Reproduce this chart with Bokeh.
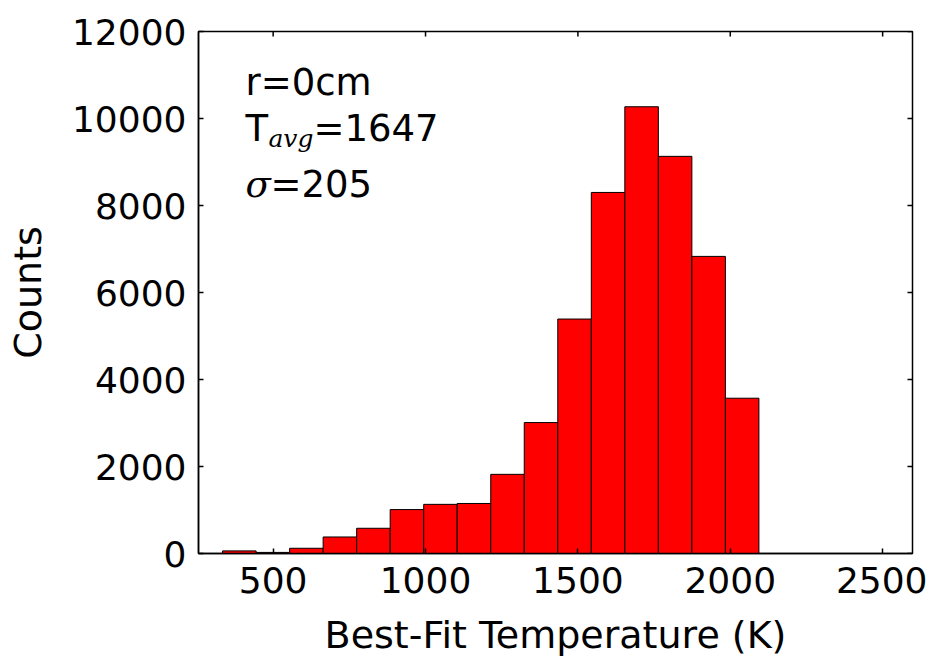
import math
from bokeh.plotting import figure
from bokeh.models import Range1d, FixedTicker, Label, ColumnDataSource
from bokeh.embed import file_html
from bokeh.resources import INLINE

# Histogram data
bin_left = [334, 444, 554, 664, 774, 884, 994, 1104, 1214, 1324, 1434, 1544, 1654, 1764, 1874, 1984]
bin_right = [444, 554, 664, 774, 884, 994, 1104, 1214, 1324, 1434, 1544, 1654, 1764, 1874, 1984, 2094]
counts = [60, 25, 120, 380, 580, 1010, 1130, 1150, 1820, 3010, 5390, 8300, 10270, 9130, 6830, 3570]
x_ticks = [500, 1000, 1500, 2000, 2500]
y_ticks = [0, 2000, 4000, 6000, 8000, 10000, 12000]
x_min, x_max = 255, 2598
y_min, y_max = 0, 12000

FONT = "DejaVu Sans"
TICK_SIZE = "36px"
LABEL_SIZE = "38px"
ANN_SIZE = "37px"

p = figure(width=927, height=665, output_backend="svg", toolbar_location=None,
           x_range=Range1d(x_min, x_max), y_range=Range1d(y_min, y_max),
           min_border_left=198, min_border_right=15, min_border_top=31, min_border_bottom=112)
p.background_fill_color = "white"
p.border_fill_color = "white"
p.outline_line_color = "black"
p.outline_line_width = 1.5
p.xgrid.visible = False
p.ygrid.visible = False

src = ColumnDataSource(dict(left=bin_left, right=bin_right, top=counts, bottom=[0] * len(counts)))
p.quad(left="left", right="right", top="top", bottom="bottom", source=src,
       fill_color="#ff0000", line_color="black", line_width=1)

def style_axis(ax):
    ax.axis_line_color = "black"
    ax.axis_line_width = 1.5
    ax.major_tick_in = 5
    ax.major_tick_out = 0
    ax.minor_tick_in = 0
    ax.minor_tick_out = 0
    ax.major_tick_line_color = "black"
    ax.major_tick_line_width = 1.5
    ax.major_label_text_font = FONT
    ax.major_label_text_color = "black"
    ax.major_label_text_font_size = TICK_SIZE
    ax.axis_label_text_font = FONT
    ax.axis_label_text_font_size = LABEL_SIZE
    ax.axis_label_text_font_style = "normal"
    ax.axis_label_text_color = "black"

xa = p.xaxis[0]
xa.ticker = FixedTicker(ticks=x_ticks)
style_axis(xa)
xa.major_label_standoff = 13
xa.axis_label = "Best-Fit Temperature (K)"
xa.axis_label_standoff = 17

ya = p.yaxis[0]
ya.ticker = FixedTicker(ticks=y_ticks)
style_axis(ya)
ya.major_label_standoff = 12
ya.axis_label = "Counts"
ya.axis_label_standoff = 19

# Mirrored inward ticks on the top and right edges (half of each dash is clipped by the frame)
p.scatter(x=x_ticks, y=[y_max] * len(x_ticks), marker="dash", angle=math.pi / 2, size=10,
          line_color="black", line_width=1.5)
p.scatter(x=[x_max] * len(y_ticks), y=y_ticks, marker="dash", size=10,
          line_color="black", line_width=1.5)

# Annotations
ax0 = 409
common = dict(text_color="black", text_baseline="alphabetic")
p.add_layout(Label(x=ax0, y=10830, text="r=0cm", text_font=FONT, text_font_size=ANN_SIZE, **common))
p.add_layout(Label(x=ax0, y=9780, text="T", text_font=FONT, text_font_size=ANN_SIZE, **common))
p.add_layout(Label(x=ax0, y=9780, x_offset=23, y_offset=-10, text="avg", text_font="DejaVu Serif",
                   text_font_style="italic", text_font_size="25px", **common))
p.add_layout(Label(x=ax0, y=9780, x_offset=68, text="=1647", text_font=FONT, text_font_size=ANN_SIZE, **common))
p.add_layout(Label(x=ax0, y=8480, text="σ", text_font="DejaVu Serif", text_font_style="italic",
                   text_font_size=ANN_SIZE, **common))
p.add_layout(Label(x=ax0, y=8480, x_offset=25, text="=205", text_font=FONT, text_font_size=ANN_SIZE, **common))

open("out.html", "w").write(file_html(p, INLINE))
